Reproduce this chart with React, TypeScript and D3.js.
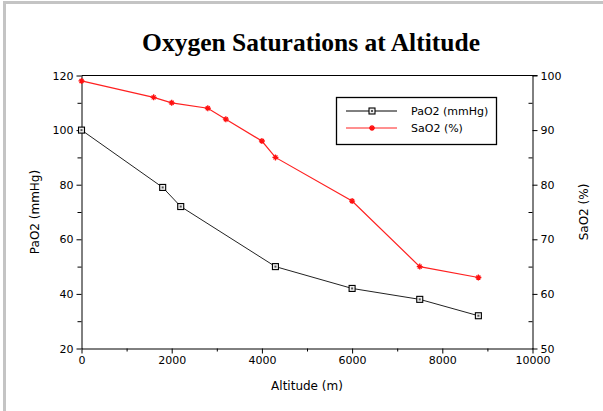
import React, { useRef, useEffect } from "react";
import { select, scaleLinear, axisBottom, axisLeft, axisRight, line, range, format } from "d3";

// altitude (m) for each series
const paAltitude = [0, 1800, 2200, 4300, 6000, 7500, 8800];
const paO2 = [100, 79, 72, 50, 42, 38, 32];
const saAltitude = [0, 1600, 2000, 2800, 3200, 4000, 4300, 6000, 7500, 8800];
const saO2 = [99, 96, 95, 94, 92, 88, 85, 77, 65, 63];

const xTicks = [0, 2000, 4000, 6000, 8000, 10000];
const leftTicks = [20, 40, 60, 80, 100, 120];
const rightTicks = [50, 60, 70, 80, 90, 100];

const W = 603;
const H = 411;
const left = 81.5;
const right = 532.5;
const top = 75.5;
const bottom = 348.5;
const FONT = "DejaVu Sans";

function App() {
  const svgRef = useRef<SVGSVGElement>(null);

  useEffect(() => {
    document.body.style.margin = "0";
    const svg = select(svgRef.current);
    svg.selectAll("*").remove();

    const x = scaleLinear().domain([0, 10000]).range([left, right]);
    const yL = scaleLinear().domain([20, 120]).range([bottom, top]);
    const yR = scaleLinear().domain([50, 100]).range([bottom, top]);

    // page frame (left and top only)
    svg.append("rect").attr("x", 0).attr("y", 0).attr("width", W).attr("height", H).attr("fill", "#fff");
    svg.append("line").attr("x1", 4.5).attr("x2", 4.5).attr("y1", 1).attr("y2", H).attr("stroke", "#c4c4c4").attr("stroke-width", 3);
    svg.append("line").attr("x1", 3).attr("x2", W).attr("y1", 2.5).attr("y2", 2.5).attr("stroke", "#c4c4c4").attr("stroke-width", 3);

    // title
    svg.append("text")
      .attr("x", 311).attr("y", 51)
      .attr("text-anchor", "middle")
      .attr("font-family", "Liberation Serif")
      .attr("font-weight", "bold")
      .attr("font-size", 25.5)
      .text("Oxygen Saturations at Altitude");

    // top frame line
    svg.append("line").attr("x1", left).attr("x2", right + 5).attr("y1", top).attr("y2", top).attr("stroke", "#000");

    const style = (g: any) => {
      g.select(".domain").attr("stroke", "#000");
      g.selectAll(".tick line").attr("stroke", "#000");
      g.selectAll("text").attr("font-family", FONT).attr("font-size", 11).attr("fill", "#000");
    };

    // minor ticks
    svg.append("g").attr("transform", `translate(0,${bottom})`)
      .call(axisBottom(x).tickValues(range(1000, 10000, 2000)).tickSize(3).tickFormat(() => ""))
      .call(style).call((g) => g.select(".domain").remove());
    svg.append("g").attr("transform", `translate(${left},0)`)
      .call(axisLeft(yL).tickValues(range(30, 120, 20)).tickSize(4).tickFormat(() => ""))
      .call(style).call((g) => g.select(".domain").remove());
    svg.append("g").attr("transform", `translate(${right},0)`)
      .call(axisRight(yR).tickValues(range(55, 100, 10)).tickSize(-4).tickFormat(() => ""))
      .call(style).call((g) => g.select(".domain").remove());

    // main axes
    svg.append("g").attr("transform", `translate(0,${bottom})`)
      .call(axisBottom(x).tickValues(xTicks).tickSize(5).tickSizeOuter(0).tickPadding(3).tickFormat(format("d")))
      .call(style);
    svg.append("g").attr("transform", `translate(${left},0)`)
      .call(axisLeft(yL).tickValues(leftTicks).tickSize(5).tickSizeOuter(0).tickPadding(3))
      .call(style);
    svg.append("g").attr("transform", `translate(${right},0)`)
      .call(axisRight(yR).tickValues(rightTicks).tickSize(5).tickSizeOuter(0).tickPadding(3))
      .call(style);

    // axis titles
    svg.append("text").attr("x", (left + right) / 2).attr("y", 390)
      .attr("text-anchor", "middle").attr("font-family", FONT).attr("font-size", 12)
      .text("Altitude (m)");
    svg.append("text").attr("transform", `translate(39,${(top + bottom) / 2}) rotate(-90)`)
      .attr("text-anchor", "middle").attr("font-family", FONT).attr("font-size", 12)
      .text("PaO2 (mmHg)");
    svg.append("text").attr("transform", `translate(588,${(top + bottom) / 2}) rotate(-90)`)
      .attr("text-anchor", "middle").attr("font-family", FONT).attr("font-size", 12)
      .text("SaO2 (%)");

    const paPts = paAltitude.map((a, i) => [x(a), yL(paO2[i])] as [number, number]);
    const saPts = saAltitude.map((a, i) => [x(a), yR(saO2[i])] as [number, number]);
    const path = line();

    svg.append("path").attr("d", path(saPts)).attr("fill", "none").attr("stroke", "#ff2020").attr("stroke-width", 1.2);
    svg.append("path").attr("d", path(paPts)).attr("fill", "none").attr("stroke", "#222").attr("stroke-width", 1);

    const star = (g: any, cx: number, cy: number) => {
      const s = 3;
      g.append("path")
        .attr("d", `M${cx - s},${cy}L${cx + s},${cy}M${cx},${cy - s}L${cx},${cy + s}M${cx - 2},${cy - 2}L${cx + 2},${cy + 2}M${cx - 2},${cy + 2}L${cx + 2},${cy - 2}`)
        .attr("stroke", "#ff1010").attr("stroke-width", 1.3);
    };
    const square = (g: any, cx: number, cy: number) => {
      g.append("rect").attr("x", cx - 3).attr("y", cy - 3).attr("width", 6).attr("height", 6)
        .attr("fill", "#eee").attr("stroke", "#000").attr("stroke-width", 1.1);
      g.append("rect").attr("x", cx - 1).attr("y", cy - 1).attr("width", 2).attr("height", 2).attr("fill", "#555");
    };

    const marks = svg.append("g");
    saPts.forEach(([px, py]) => star(marks, px, py));
    paPts.forEach(([px, py]) => square(marks, px, py));

    // legend
    const lg = svg.append("g");
    lg.append("rect").attr("x", 336.5).attr("y", 97.5).attr("width", 160).attr("height", 47)
      .attr("fill", "#fff").attr("stroke", "#000").attr("stroke-width", 1.3);
    lg.append("line").attr("x1", 346).attr("x2", 397).attr("y1", 111).attr("y2", 111).attr("stroke", "#000");
    square(lg, 372, 111);
    lg.append("line").attr("x1", 346).attr("x2", 397).attr("y1", 128).attr("y2", 128).attr("stroke", "#ff2020");
    star(lg, 372, 128);
    lg.append("text").attr("x", 411).attr("y", 115).attr("font-family", FONT).attr("font-size", 11).text("PaO2 (mmHg)");
    lg.append("text").attr("x", 411).attr("y", 132).attr("font-family", FONT).attr("font-size", 11).text("SaO2 (%)");
  }, []);

  return <svg ref={svgRef} width={W} height={H} style={{ display: "block" }} />;
}

export default App;
